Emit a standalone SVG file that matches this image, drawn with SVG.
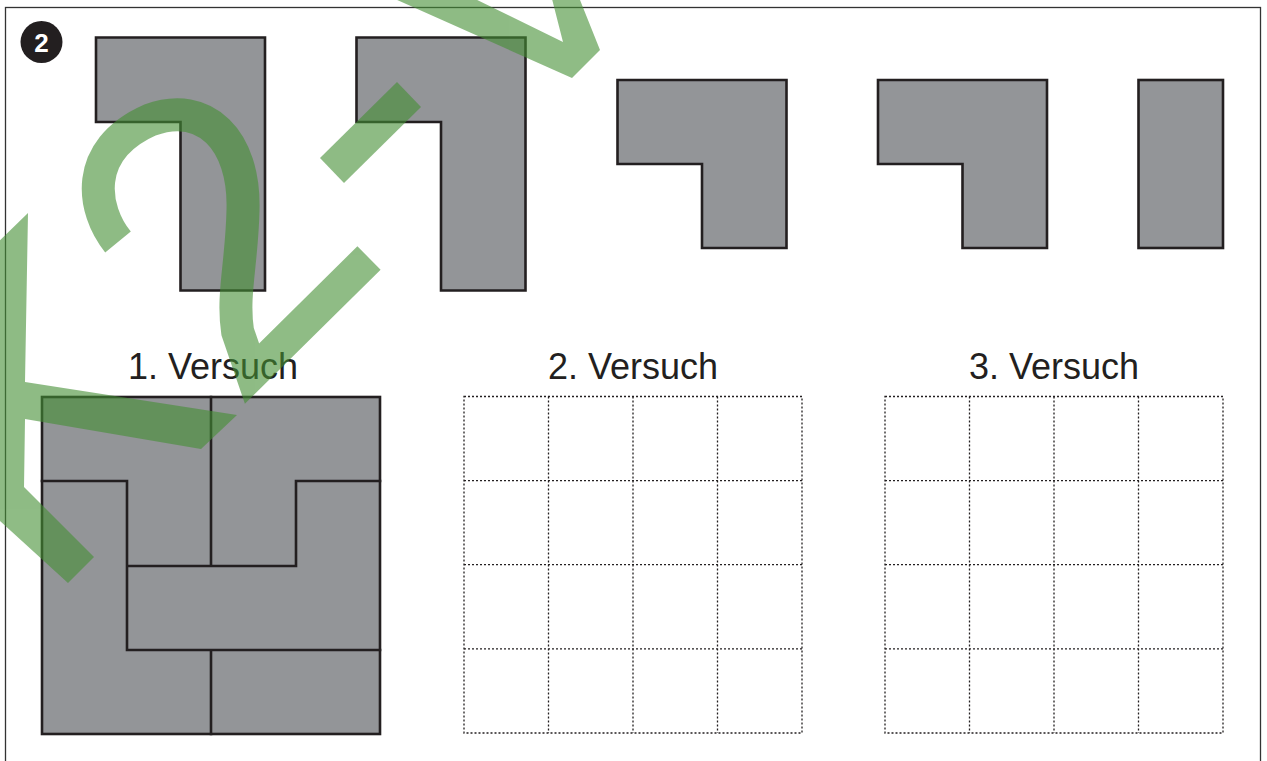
<svg xmlns="http://www.w3.org/2000/svg" width="1267" height="761" viewBox="0 0 1267 761">
  <style>
    .piece { fill: #939598; stroke: #231f20; stroke-width: 2.6; stroke-linejoin: miter; }
    .cut { fill: none; stroke: #231f20; stroke-width: 2.6; stroke-linecap: square; }
    .grid { fill: none; stroke: #231f20; stroke-width: 1.3; stroke-dasharray: 2 2; }
    .label { font-family: "Liberation Sans", Arial, sans-serif; font-size: 36px; fill: #231f20; text-anchor: middle; }
    .wm { fill: rgb(68,143,52); }
  </style>
  <rect x="0" y="0" width="1267" height="761" fill="#ffffff"/>
  <rect id="frame" x="5.5" y="7.5" width="1255" height="780" fill="none" stroke="#333333" stroke-width="1.3"/>

  <g id="badge">
    <circle cx="41.5" cy="42" r="21" fill="#231f20"/>
    <text x="41.5" y="51.5" font-family="Liberation Sans, Arial, sans-serif" font-size="26" font-weight="bold" fill="#ffffff" text-anchor="middle">2</text>
  </g>

  <g id="piece1"><path class="piece" d="M96,37.5 H265 V290.5 H180.5 V122 H96 Z"/></g>
  <g id="piece2"><path class="piece" d="M356.5,37.5 H525.5 V290.5 H441 V122 H356.5 Z"/></g>
  <g id="piece3"><path class="piece" d="M617.5,80 H786.5 V248 H702 V164 H617.5 Z"/></g>
  <g id="piece4"><path class="piece" d="M878,80 H1047 V248 H962.5 V164 H878 Z"/></g>
  <g id="piece5"><rect class="piece" x="1138.5" y="80" width="84.5" height="168"/></g>

  <g id="label1"><text class="label" x="213" y="379">1. Versuch</text></g>
  <g id="label2"><text class="label" x="633" y="379">2. Versuch</text></g>
  <g id="label3"><text class="label" x="1054" y="379">3. Versuch</text></g>

  <g id="versuch1">
    <rect class="piece" x="42" y="397" width="338" height="337"/>
    <path class="cut" d="M211,397 V566 M42,481 H127 V650 M127,566 H296 V481 H380 M127,650 H380 M211,650 V734"/>
  </g>

  <g id="versuch2">
    <rect class="grid" x="464" y="396.5" width="338" height="336.5"/>
    <path class="grid" d="M548.5,396.5 V733 M633,396.5 V733 M717.5,396.5 V733 M464,480.6 H802 M464,564.7 H802 M464,648.9 H802"/>
  </g>

  <g id="versuch3">
    <rect class="grid" x="885" y="396.5" width="338" height="336.5"/>
    <path class="grid" d="M969.5,396.5 V733 M1054,396.5 V733 M1138.5,396.5 V733 M885,480.6 H1223 M885,564.7 H1223 M885,648.9 H1223"/>
  </g>

  <g id="watermark" opacity="0.6">
    <polygon class="wm" points="28,213 -12,252 -12,510 68,583 94,557 24,487 25,419 201,449 237,415 25,382"/>
    <path d="M118,242 C92,210 82,150 150,120 C205,100 245,140 243,210 C242,262 232,295 237.6,331.6 L252,373.6 L369,258" fill="none" stroke="rgb(68,143,52)" stroke-width="33" stroke-linejoin="miter" stroke-miterlimit="6"/>
    <polygon class="wm" points="320,158 344,183 421,107 397,82"/>
    <polygon class="wm" points="386,-5 572,78 600,50 578,-5 551,-5 563,42 467,-5"/>
  </g>
</svg>
